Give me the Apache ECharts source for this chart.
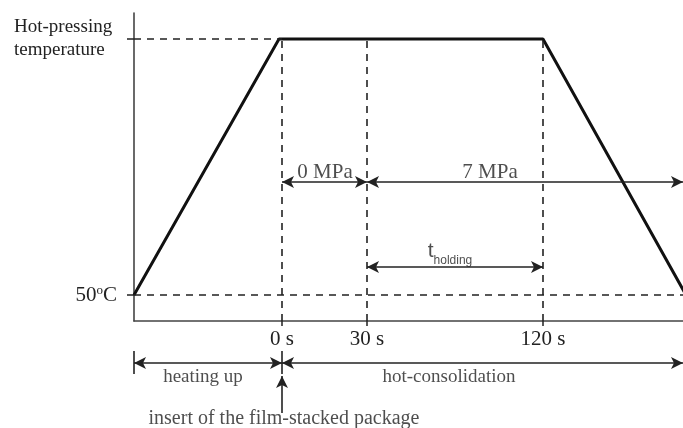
<!DOCTYPE html>
<html>
<head>
<meta charset="utf-8">
<script src="https://cdn.jsdelivr.net/npm/echarts@6/dist/echarts.min.js"></script>
<style>
  html, body { margin: 0; padding: 0; background: #fff; }
  #main { width: 683px; height: 428px; }
</style>
</head>
<body>
<div id="main"></div>
<script>
// schematic only, not to scale: both axes use arbitrary units
const xMax = 549
const yMax = 308
const lowMax = 107

const timeTicks = [148, 233, 409]
const timeLabels = ['0 s', '30 s', '120 s']

const tempLevels = [26, 282]
const tempLabels = ['50°C', 'Hot-pressing temperature']

// temperature profile: heat up, hold, cool down
const profileX = [0, 145, 409, 552]
const profileY = [26, 282, 282, 26]

// pressure stages: from, to, label, label x
const pressureY = 139
const pressureStages = [[148, 233, '0 MPa', 191], [233, 549, '7 MPa', 356]]
// holding time: from, to, y
const holding = [233, 409, 54]

// process phases under the axis: from, to, label, label x
const phaseY = 65
const phases = [[0, 148, 'heating up', 69], [148, 549, 'hot-consolidation', 315]]
const insertLabel = 'insert of the film-stacked package'

const ink = '#222'
const serif = '"Liberation Serif", "Times New Roman", serif'
const sans = '"Liberation Sans", Arial, sans-serif'
const dashed = { type: [7, 6], width: 1.6, color: ink }
const solid = { type: 'solid', width: 1.6, color: ink }

function seg(a, b, symA, symB, style) {
  return [
    { coord: a, symbol: symA, lineStyle: style },
    { coord: b, symbol: symB, lineStyle: style },
  ]
}

const upperLines = [
  seg([0, tempLevels[1]], [timeTicks[0], tempLevels[1]], 'none', 'none', dashed),
  seg([0, tempLevels[0]], [xMax, tempLevels[0]], 'none', 'none', dashed),
  ...timeTicks.map(x => seg([x, 0], [x, tempLevels[1]], 'none', 'none', dashed)),
  ...pressureStages.map(p => seg([p[0], pressureY], [p[1], pressureY], 'arrow', 'arrow', solid)),
  seg([holding[0], holding[2]], [holding[1], holding[2]], 'arrow', 'arrow', solid),
]

const lowerLines = [
  ...phases.map(p => seg([p[0], phaseY], [p[1], phaseY], 'arrow', 'arrow', solid)),
  ...phases.map(p => seg([p[0], phaseY - 11], [p[0], phaseY + 12], 'none', 'none', solid)),
  seg([timeTicks[0], 15], [timeTicks[0], phaseY - 13], 'none', 'arrow', solid),
]

const markLineBase = {
  silent: true,
  animation: false,
  symbolSize: [9, 12],
  label: { show: false },
  emphasis: { disabled: true },
}

const textLabel = {
  show: true,
  position: 'inside',
  formatter: '{b}',
  color: ink,
  fontFamily: serif,
  fontSize: 20,
}

const chart = echarts.init(document.getElementById('main'))

chart.setOption({
  animation: false,
  backgroundColor: '#fff',
  grid: [
    { left: 134, right: 0, top: 13, bottom: lowMax },
    { left: 134, right: 0, top: 428 - lowMax, bottom: 0 },
  ],
  xAxis: [
    {
      type: 'value', gridIndex: 0, min: 0, max: xMax,
      splitLine: { show: false },
      axisLine: { lineStyle: { color: '#444', width: 1.6 } },
      axisTick: { customValues: timeTicks, length: 5, lineStyle: { color: ink, width: 1.5 } },
      axisLabel: {
        customValues: timeTicks,
        formatter: v => timeLabels[timeTicks.indexOf(v)],
        margin: 8,
        color: ink, fontFamily: serif, fontSize: 21,
      },
    },
    { type: 'value', gridIndex: 1, min: 0, max: xMax, show: false },
  ],
  yAxis: [
    {
      type: 'value', gridIndex: 0, min: 0, max: yMax,
      splitLine: { show: false },
      axisLine: { show: true, lineStyle: { color: '#444', width: 1.6 } },
      axisTick: { show: true, customValues: tempLevels, length: 7, lineStyle: { color: ink, width: 1.5 } },
      axisLabel: {
        customValues: tempLevels,
        margin: 17,
        color: ink, fontFamily: serif, fontSize: 19,
        formatter: v => v === tempLevels[0]
          ? '{n|50}{sup|o}{n|C}'
          : tempLabels[1].split(' ').map(w => '{a|' + w + '}').join('\n'),
        rich: {
          n: { fontFamily: serif, fontSize: 21, color: ink, verticalAlign: 'bottom' },
          sup: { fontFamily: serif, fontSize: 13, color: ink, verticalAlign: 'top' },
          a: { fontFamily: serif, fontSize: 19, color: ink, width: 103, align: 'left', lineHeight: 23 },
        },
      },
    },
    { type: 'value', gridIndex: 1, min: 0, max: lowMax, show: false },
  ],
  series: [
    {
      type: 'line',
      xAxisIndex: 0, yAxisIndex: 0,
      data: profileX.map((x, i) => [x, profileY[i]]),
      symbol: 'none',
      clip: true,
      lineStyle: { color: '#111', width: 3 },
      markLine: Object.assign({ data: upperLines }, markLineBase),
      z: 3,
    },
    {
      type: 'scatter',
      xAxisIndex: 0, yAxisIndex: 0,
      symbolSize: 0,
      silent: true,
      label: Object.assign({}, textLabel, { fontSize: 21 }),
      data: [
        ...pressureStages.map(p => ({ name: p[2], value: [p[3], pressureY + 10] })),
        {
          name: 'tholding',
          value: [316, holding[2] + 13],
          label: {
            formatter: '{t|t}{s|holding}',
            rich: {
              t: { fontFamily: sans, fontSize: 21, color: ink, verticalAlign: 'top' },
              s: { fontFamily: sans, fontSize: 12, color: ink, verticalAlign: 'bottom', padding: [14, 0, 0, 0] },
            },
          },
        },
      ],
    },
    {
      type: 'scatter',
      xAxisIndex: 1, yAxisIndex: 1,
      symbolSize: 0,
      silent: true,
      label: Object.assign({}, textLabel, { fontSize: 19 }),
      data: [
        ...phases.map(p => ({ name: p[2], value: [p[3], phaseY - 14] })),
        { name: insertLabel, value: [timeTicks[0] + 2, 9], label: { fontSize: 20 } },
      ],
      markLine: Object.assign({ data: lowerLines }, markLineBase),
    },
  ],
})
</script>
</body>
</html>
